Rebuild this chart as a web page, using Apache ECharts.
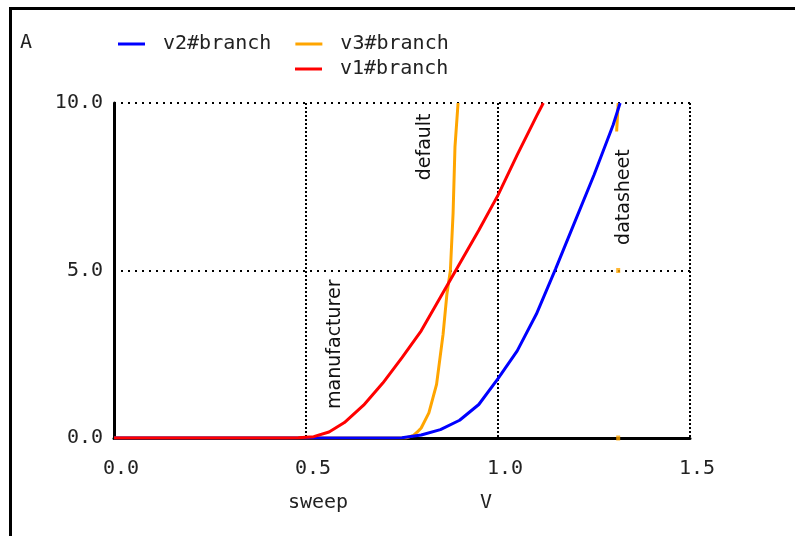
<!DOCTYPE html>
<html>
<head>
<meta charset="utf-8">
<script src="https://cdn.jsdelivr.net/npm/echarts@6/dist/echarts.min.js"></script>
<style>html,body{margin:0;padding:0;background:#fff;}#c{width:795px;height:536px;}</style>
</head>
<body>
<div id="c"></div>
<script>
// Data (x: sweep V, y: current A)
const v2Branch = [[0,0],[0.72,0],[0.75,0.01],[0.8,0.09],[0.85,0.25],[0.9,0.53],[0.95,1.0],[1.0,1.77],[1.05,2.6],[1.1,3.7],[1.15,5.05],[1.2,6.45],[1.25,7.85],[1.3,9.35],[1.318,10]];
const v3Branch = [[0,0],[0.76,0],[0.78,0.08],[0.79,0.18],[0.8,0.3],[0.82,0.75],[0.84,1.6],[0.857,3.1],[0.867,4.3],[0.876,5.0],[0.883,6.7],[0.888,8.7],[0.896,10]];
const v1Branch = [[0,0],[0.45,0],[0.48,0.01],[0.52,0.04],[0.56,0.18],[0.6,0.46],[0.65,0.98],[0.7,1.64],[0.75,2.4],[0.8,3.2],[0.85,4.2],[0.9,5.2],[0.95,6.2],[1.0,7.25],[1.05,8.45],[1.1,9.6],[1.118,10]];
const v3Marks = [[1.313,0],[1.313,5]];
const v3MarkTop = [[1.309,9.15],[1.313,10]];
const xTicks = {min:0, max:1.5, interval:0.5};
const yTicks = {min:0, max:10, interval:5};
const annotations = [
  {text:'manufacturer', x:0.575, y:2.8},
  {text:'default', x:0.81, y:8.69},
  {text:'datasheet', x:1.327, y:7.19}
];

const mono = 'DejaVu Sans Mono';
const chart = echarts.init(document.getElementById('c'));
const option = {
  animation:false,
  backgroundColor:'#fff',
  grid:{left:114, right:105, top:103, bottom:98, containLabel:false},
  legend:[
    {data:['v2#branch','v3#branch'], left:113, top:29, orient:'horizontal', itemWidth:27, itemHeight:3, itemGap:24, icon:'rect',
     textStyle:{fontFamily:mono, fontSize:20, color:'#222', padding:[0,0,0,13]}},
    {data:['v1#branch'], left:290, top:54, orient:'horizontal', itemWidth:27, itemHeight:3, icon:'rect',
     textStyle:{fontFamily:mono, fontSize:20, color:'#222', padding:[0,0,0,13]}}
  ],
  xAxis:{type:'value', min:xTicks.min, max:xTicks.max, interval:xTicks.interval,
    axisLine:{show:true, onZero:false, lineStyle:{color:'#000', width:3}},
    axisTick:{show:false},
    axisLabel:{margin:21, fontFamily:mono, fontSize:20, color:'#222', padding:[0,0,0,14], formatter:v=>v.toFixed(1)},
    splitLine:{show:true, lineStyle:{color:'#000', width:2, type:[2,2]}}},
  yAxis:{type:'value', min:yTicks.min, max:yTicks.max, interval:yTicks.interval,
    axisLine:{show:true, onZero:false, lineStyle:{color:'#000', width:3}},
    axisTick:{show:false},
    axisLabel:{margin:11, fontFamily:mono, fontSize:20, color:'#222', formatter:v=>v.toFixed(1)},
    splitLine:{show:true, lineStyle:{color:'#000', width:2, type:[2,5]}}},
  series:[
    {name:'v3#branch', type:'line', data:v3Branch, showSymbol:false, symbol:'none', color:'#ffa500', lineStyle:{width:3, color:'#ffa500'}, z:2},
    {name:'v3 marks', type:'scatter', data:v3Marks, symbol:'rect', symbolSize:[4,5], itemStyle:{color:'#ffa500'}, z:2},
    {name:'v3 top', type:'line', data:v3MarkTop, symbol:'none', lineStyle:{width:3, color:'#ffa500'}, z:2},
    {name:'v2#branch', type:'line', data:v2Branch, showSymbol:false, symbol:'none', color:'#0000ff', lineStyle:{width:3, color:'#0000ff'}, z:3},
    {name:'v1#branch', type:'line', data:v1Branch, showSymbol:false, symbol:'none', color:'#ff0000', lineStyle:{width:3, color:'#ff0000'}, z:4}
  ],
  graphic:[
    {type:'rect', shape:{x:9, y:7, width:800, height:3}, style:{fill:'#000'}, silent:true},
    {type:'rect', shape:{x:9, y:7, width:3, height:540}, style:{fill:'#000'}, silent:true},
    {type:'text', x:20, y:43, style:{text:'A', font:'20px "DejaVu Sans Mono"', fill:'#222', textAlign:'left', textVerticalAlign:'middle'}},
    {type:'text', x:318, y:503, style:{text:'sweep', font:'20px "DejaVu Sans Mono"', fill:'#222', textAlign:'center', textVerticalAlign:'middle'}},
    {type:'text', x:486, y:503, style:{text:'V', font:'20px "DejaVu Sans Mono"', fill:'#222', textAlign:'center', textVerticalAlign:'middle'}}
  ]
};
chart.setOption(option);
const ann = annotations.map(a => {
  const p = chart.convertToPixel({gridIndex:0}, [a.x, a.y]);
  return {type:'text', x:p[0], y:p[1], rotation:Math.PI/2, z:10,
    style:{text:a.text, font:'19px "DejaVu Sans"', fill:'#111', textAlign:'center', textVerticalAlign:'middle'}};
});
chart.setOption({graphic: option.graphic.concat(ann)});
</script>
</body>
</html>
